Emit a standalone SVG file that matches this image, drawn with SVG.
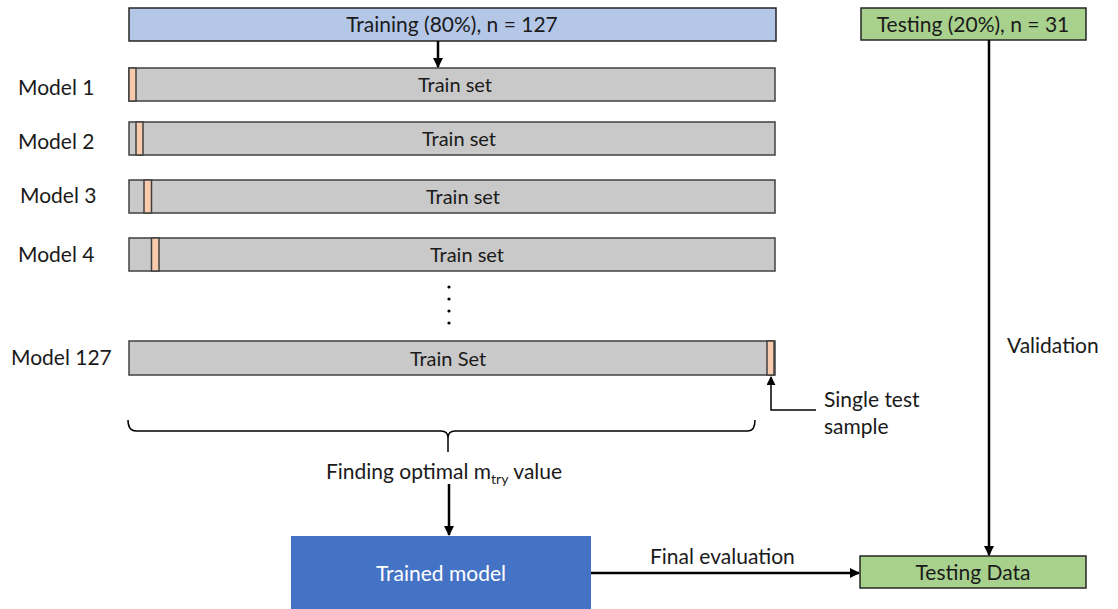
<svg xmlns="http://www.w3.org/2000/svg" width="1118" height="609" viewBox="0 0 1118 609">
  <defs>
    <style>
      .t { font-family: Lato, "Liberation Sans", sans-serif; font-size: 21px; fill: #1a1a1a; }
      .c { text-anchor: middle; }
      .bt { font-size: 20px; }
      .bar { fill: #C9C9C9; stroke: #404040; stroke-width: 1.5; }
      .slot { fill: #F8CBAD; stroke: #404040; stroke-width: 1.5; }
      .line { stroke: #000; stroke-width: 2.5; fill: none; }
      .thin { stroke: #000; stroke-width: 1.5; fill: none; }
    </style>
    <marker id="ah" viewBox="0 0 10 10" refX="9" refY="5" markerWidth="4" markerHeight="4" orient="auto" markerUnits="strokeWidth">
      <path d="M0,0 L10,5 L0,10 z" fill="#000"/>
    </marker>
    <marker id="ahs" viewBox="0 0 10 10" refX="9" refY="5" markerWidth="6" markerHeight="6" orient="auto" markerUnits="strokeWidth">
      <path d="M0,0 L10,5 L0,10 z" fill="#000"/>
    </marker>
  </defs>

  <rect width="1118" height="609" fill="#fff"/>

  <g id="training">
    <rect x="129" y="8" width="647" height="33" fill="#B4C7E7" stroke="#262626" stroke-width="1.5"/>
    <text class="t c" x="452" y="32">Training (80%), n = 127</text>
  </g>

  <g id="testing-split">
    <rect x="861" y="8" width="225" height="32" fill="#A9D18E" stroke="#262626" stroke-width="1.5"/>
    <text class="t c" x="973" y="32">Testing (20%), n = 31</text>
  </g>

  <g id="model-1">
    <text class="t" x="18" y="95">Model 1</text>
    <rect class="bar" x="129" y="68" width="646" height="33"/>
    <rect class="slot" x="129" y="68" width="7" height="33"/>
    <text class="t bt c" x="455" y="92">Train set</text>
  </g>

  <g id="model-2">
    <text class="t" x="18" y="149">Model 2</text>
    <rect class="bar" x="129" y="122" width="646" height="33"/>
    <rect class="slot" x="136" y="122" width="7" height="33"/>
    <text class="t bt c" x="459" y="146">Train set</text>
  </g>

  <g id="model-3">
    <text class="t" x="20" y="203">Model 3</text>
    <rect class="bar" x="129" y="180" width="646" height="33"/>
    <rect class="slot" x="144" y="180" width="7.5" height="33"/>
    <text class="t bt c" x="463" y="204">Train set</text>
  </g>

  <g id="model-4">
    <text class="t" x="18" y="262">Model 4</text>
    <rect class="bar" x="129" y="238" width="646" height="33"/>
    <rect class="slot" x="151.5" y="238" width="7.5" height="33"/>
    <text class="t bt c" x="467" y="262">Train set</text>
  </g>

  <g id="ellipsis">
    <circle cx="449" cy="287" r="1.6" fill="#000"/>
    <circle cx="449" cy="299" r="1.6" fill="#000"/>
    <circle cx="449" cy="311" r="1.6" fill="#000"/>
    <circle cx="449" cy="323" r="1.6" fill="#000"/>
  </g>

  <g id="model-127">
    <text class="t" x="11" y="365">Model 127</text>
    <rect class="bar" x="129" y="341" width="646" height="34"/>
    <rect class="slot" x="767" y="341" width="7" height="34"/>
    <text class="t bt c" x="448" y="366">Train Set</text>
  </g>

  <g id="single-test-label">
    <text class="t" x="824" y="407">Single test</text>
    <text class="t" x="824" y="434">sample</text>
  </g>

  <g id="brace">
    <path class="thin" d="M128,420 Q128,431 136,431 L441,431 Q448,431 448,438 L448,452 M448,438 Q448,431 455,431 L748,431 Q755,431 755,420"/>
    <text class="t c" x="444" y="479">Finding optimal m<tspan font-size="14" dy="5">try</tspan><tspan dy="-5"> value</tspan></text>
  </g>

  <g id="trained-model">
    <rect x="291" y="536" width="300" height="74" fill="#4472C4"/>
    <text class="t c" x="441" y="581" style="fill:#fff">Trained model</text>
  </g>

  <g id="testing-data">
    <rect x="860" y="556" width="226" height="32" fill="#A9D18E" stroke="#262626" stroke-width="1.5"/>
    <text class="t c" x="973" y="580">Testing Data</text>
  </g>

  <g id="connectors">
    <line class="line" x1="438" y1="41" x2="438" y2="67" marker-end="url(#ah)"/>
    <line class="line" x1="449" y1="484" x2="449" y2="535" marker-end="url(#ah)"/>
    <line class="line" x1="591" y1="573" x2="859" y2="573" marker-end="url(#ah)"/>
    <line class="line" x1="989" y1="40" x2="989" y2="555" marker-end="url(#ah)"/>
    <polyline class="thin" points="816,410 771,410 771,377" marker-end="url(#ahs)"/>
    <text class="t" x="1007" y="353">Validation</text>
    <text class="t" x="650" y="564">Final evaluation</text>
  </g>
</svg>
